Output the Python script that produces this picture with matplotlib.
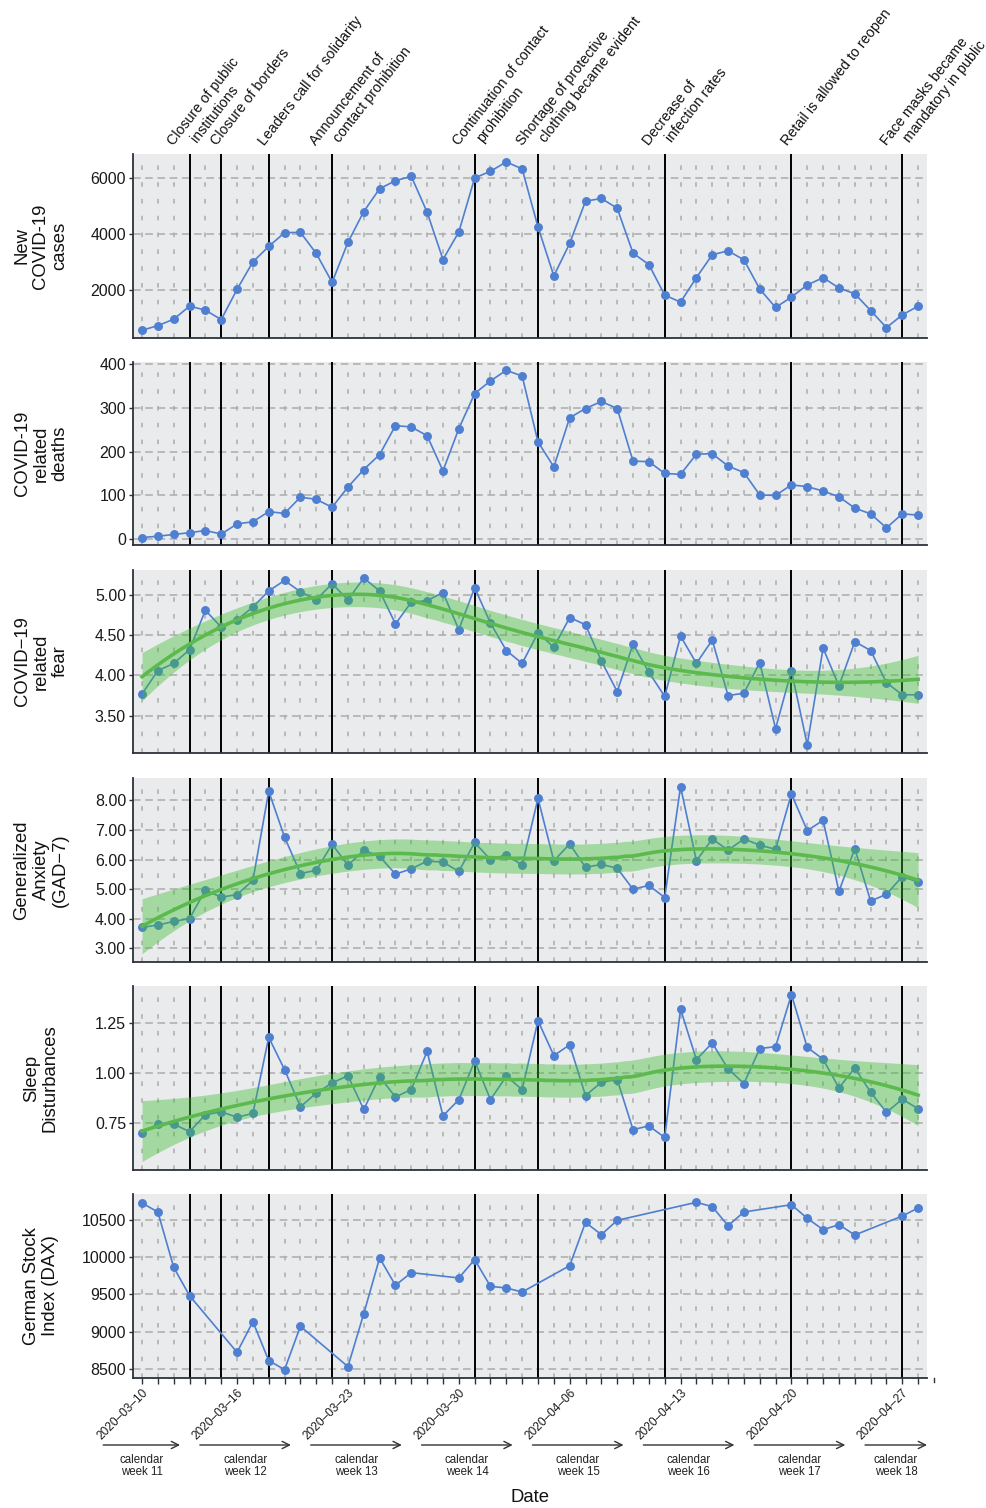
import numpy as np
import pandas as pd
import matplotlib
matplotlib.use('Agg')
import matplotlib.pyplot as plt
import matplotlib.dates as mdates

plt.rcParams['font.family'] = ['Liberation Sans', 'DejaVu Sans']

# daily series, 2020-03-10 .. 2020-04-28
days = pd.date_range('2020-03-10', '2020-04-28', freq='D')

new_cases = [561, 729, 956, 1424, 1280, 944, 2023, 3005, 3556, 4047,
             4059, 3305, 2274, 3700, 4802, 5617, 5904, 6060, 4778, 3089,
             4071, 6000, 6240, 6575, 6323, 4251, 2502, 3664, 5173, 5269,
             4922, 3316, 2909, 1819, 1567, 2442, 3257, 3400, 3077, 2035,
             1376, 1747, 2178, 2442, 2071, 1867, 1268, 657, 1112, 1424]

deaths = [4, 7, 11, 15, 20, 12, 35, 40, 63, 59,
          96, 91, 73, 119, 159, 193, 259, 256, 236, 156,
          252, 332, 361, 385, 372, 222, 165, 277, 298, 314,
          298, 178, 177, 150, 148, 194, 195, 167, 152, 101,
          100, 124, 120, 110, 97, 71, 58, 26, 58, 55]

fear = [3.77, 4.06, 4.15, 4.32, 4.81, 4.60, 4.69, 4.85, 5.05, 5.18,
        5.04, 4.94, 5.14, 4.94, 5.21, 5.05, 4.64, 4.91, 4.93, 5.03,
        4.57, 5.09, 4.65, 4.31, 4.15, 4.53, 4.35, 4.72, 4.63, 4.18,
        3.80, 4.39, 4.04, 3.74, 4.49, 4.15, 4.44, 3.75, 3.78, 4.16,
        3.34, 4.06, 3.14, 4.34, 3.87, 4.42, 4.31, 3.91, 3.76, 3.76]

gad7 = [3.71, 3.79, 3.91, 4.01, 4.97, 4.73, 4.82, 5.30, 8.31, 6.76,
        5.53, 5.64, 6.52, 5.81, 6.32, 6.11, 5.51, 5.69, 5.95, 5.92,
        5.60, 6.58, 6.00, 6.17, 5.81, 8.07, 5.96, 6.53, 5.74, 5.84,
        5.71, 5.00, 5.13, 4.72, 8.47, 5.96, 6.70, 6.32, 6.70, 6.49,
        6.35, 8.22, 6.98, 7.33, 4.93, 6.37, 4.60, 4.83, 5.43, 5.24]

sleep = [0.704, 0.748, 0.747, 0.709, 0.793, 0.808, 0.781, 0.800, 1.179, 1.018,
         0.833, 0.901, 0.952, 0.988, 0.820, 0.983, 0.882, 0.919, 1.109, 0.788,
         0.868, 1.061, 0.869, 0.985, 0.919, 1.262, 1.088, 1.142, 0.889, 0.955,
         0.969, 0.719, 0.738, 0.680, 1.320, 1.068, 1.151, 1.022, 0.949, 1.123,
         1.133, 1.392, 1.129, 1.070, 0.927, 1.026, 0.906, 0.805, 0.871, 0.823]

# DAX only on trading days
dax_dates = pd.to_datetime([
    '2020-03-10', '2020-03-11', '2020-03-12', '2020-03-13',
    '2020-03-16', '2020-03-17', '2020-03-18', '2020-03-19', '2020-03-20',
    '2020-03-23', '2020-03-24', '2020-03-25', '2020-03-26', '2020-03-27',
    '2020-03-30', '2020-03-31', '2020-04-01', '2020-04-02', '2020-04-03',
    '2020-04-06', '2020-04-07', '2020-04-08', '2020-04-09',
    '2020-04-14', '2020-04-15', '2020-04-16', '2020-04-17',
    '2020-04-20', '2020-04-21', '2020-04-22', '2020-04-23', '2020-04-24',
    '2020-04-27', '2020-04-28'])
dax = [10723, 10602, 9863, 9484,
       8727, 9137, 8616, 8496, 9075,
       8536, 9244, 9988, 9623, 9792,
       9721, 9966, 9609, 9587, 9533,
       9885, 10464, 10300, 10491,
       10732, 10674, 10420, 10602,
       10700, 10518, 10366, 10433, 10295,
       10549, 10656]

event_dates = pd.to_datetime(['2020-03-13', '2020-03-15', '2020-03-18', '2020-03-22',
                              '2020-03-31', '2020-04-04', '2020-04-12', '2020-04-20',
                              '2020-04-27'])
event_labels = ['Closure of public\ninstitutions',
                'Closure of borders',
                'Leaders call for solidarity',
                'Announcement of\ncontact prohibition',
                'Continuation of contact\nprohibition',
                'Shortage of protective\nclothing became evident',
                'Decrease of\ninfection rates',
                'Retail is allowed to reopen',
                'Face masks became\nmandatory in public']

tick_dates = pd.to_datetime(['2020-03-10', '2020-03-16', '2020-03-23', '2020-03-30',
                             '2020-04-06', '2020-04-13', '2020-04-20', '2020-04-27'])
week_mondays = pd.to_datetime(['2020-03-09', '2020-03-16', '2020-03-23', '2020-03-30',
                               '2020-04-06', '2020-04-13', '2020-04-20', '2020-04-27'])
week_numbers = [11, 12, 13, 14, 15, 16, 17, 18]

BLUE = '#4f7fd0'
GREEN_LINE = '#5cb94e'
GREEN_FILL = '#3cbe32'
PANEL_BG = '#e9ebec'
GRID = '#acacac'
AXIS = '#2d313b'


def loess(x, y, grid, span=0.75):
    # local quadratic fit with tricube weights (like R's loess / geom_smooth)
    x = np.asarray(x, float)
    y = np.asarray(y, float)
    n = len(x)
    q = int(np.floor(n * span))

    def row(x0):
        d = np.abs(x - x0)
        h = np.sort(d)[q - 1]
        w = (1 - np.clip(d / h, 0, 1) ** 3) ** 3
        X = np.column_stack([np.ones(n), x - x0, (x - x0) ** 2])
        XtW = X.T * w
        return np.linalg.solve(XtW @ X, XtW)[0]

    L = np.array([row(v) for v in x])
    resid = y - L @ y
    M = np.eye(n) - L
    sigma = np.sqrt(resid @ resid / np.trace(M.T @ M))
    G = np.array([row(v) for v in grid])
    fit = G @ y
    se = sigma * np.sqrt((G ** 2).sum(axis=1))
    return fit, fit - 2.02 * se, fit + 2.02 * se


W, H = 987, 1508
fig = plt.figure(figsize=(W / 100, H / 100), dpi=100)

panels_px = [(154, 338), (362, 545), (570, 753), (778, 962), (986, 1170), (1194, 1378)]
left_px, right_px = 133, 927

xnum = mdates.date2num(days)
xlim = (xnum[0] - 0.57, xnum[-1] + 0.56)
day_idx = np.arange(len(days), dtype=float)

axes = []
for top, bottom in panels_px:
    ax = fig.add_axes([left_px / W, 1 - bottom / H, (right_px - left_px) / W, (bottom - top) / H])
    ax.set_facecolor(PANEL_BG)
    for s in ['top', 'right']:
        ax.spines[s].set_visible(False)
    for s in ['left', 'bottom']:
        ax.spines[s].set_color(AXIS)
        ax.spines[s].set_linewidth(1.3)
    ax.set_xlim(xlim)
    ax.set_xticks(xnum)
    ax.grid(axis='x', ls=(0, (3, 8)), color=GRID, lw=1.1)
    ax.grid(axis='y', ls=(0, (5, 3)), color=GRID, lw=1.1)
    ax.set_axisbelow(True)
    ax.tick_params(axis='y', labelsize=11.5, length=3, width=1, color=AXIS, labelcolor='#1a1a1a', pad=2)
    ax.tick_params(axis='x', length=0, labelbottom=False)
    for ev in mdates.date2num(event_dates):
        ax.axvline(ev, color='black', lw=1.4, zorder=2)
    axes.append(ax)


def draw_series(ax, x, y):
    ax.plot(x, y, color=BLUE, lw=1.2, marker='o', ms=5.4, zorder=3)


def draw_smooth(ax, y):
    grid = np.linspace(0, len(y) - 1, 120)
    fit, lo, hi = loess(day_idx, y, grid)
    gx = xnum[0] + grid
    ax.fill_between(gx, lo, hi, color=GREEN_FILL, alpha=0.4, lw=0, zorder=4)
    ax.plot(gx, fit, color=GREEN_LINE, lw=2.6, zorder=5)


ax1, ax2, ax3, ax4, ax5, ax6 = axes

draw_series(ax1, xnum, new_cases)
ax1.set_ylim(286, 6857)
ax1.set_yticks([2000, 4000, 6000])

draw_series(ax2, xnum, deaths)
ax2.set_ylim(-13, 404)
ax2.set_yticks([0, 100, 200, 300, 400])

draw_series(ax3, xnum, fear)
draw_smooth(ax3, fear)
ax3.set_ylim(3.037, 5.31)
ax3.set_yticks([3.5, 4.0, 4.5, 5.0])

draw_series(ax4, xnum, gad7)
draw_smooth(ax4, gad7)
ax4.set_ylim(2.54, 8.76)
ax4.set_yticks([3, 4, 5, 6, 7, 8])

draw_series(ax5, xnum, sleep)
draw_smooth(ax5, sleep)
ax5.set_ylim(0.518, 1.435)
ax5.set_yticks([0.75, 1.0, 1.25])

draw_series(ax6, mdates.date2num(dax_dates), dax)
ax6.set_ylim(8384, 10843)
ax6.set_yticks([8500, 9000, 9500, 10000, 10500])

for ax in [ax3, ax4, ax5]:
    ax.yaxis.set_major_formatter(matplotlib.ticker.FormatStrFormatter('%.2f'))

ylabels = ['New\nCOVID-19\ncases', 'COVID-19\nrelated\ndeaths', 'COVID\u221219\nrelated\nfear',
           'Generalized\nAnxiety\n(GAD\u22127)', 'Sleep\nDisturbances', 'German Stock\nIndex (DAX)']
for ax, lab in zip(axes, ylabels):
    ax.text((41 - left_px) / (right_px - left_px), 0.5, lab, transform=ax.transAxes,
            rotation=90, ha='center', va='center', multialignment='center',
            fontsize=13.3, linespacing=1.15, color='#111111')

# bottom x axis: one tick per day, labels weekly
tick_set = set(tick_dates)
ax6.set_xticks(xnum)
ax6.set_xticklabels([d.strftime('%Y\u2013%m\u2013%d') if d in tick_set else '' for d in days])
ax6.tick_params(axis='x', length=4, width=1, color=AXIS, labelbottom=True, labelsize=8.6,
                labelcolor='#1a1a1a', pad=2)
for lab in ax6.get_xticklabels():
    lab.set_rotation(45)
    lab.set_ha('right')
    lab.set_rotation_mode('anchor')
ax6.plot([xnum[-1] + 1, xnum[-1] + 1], [0, -0.022], transform=ax6.get_xaxis_transform(),
         color=AXIS, lw=1, clip_on=False)

# event labels above the first panel
for ev, lab in zip(mdates.date2num(event_dates), event_labels):
    lines = lab.split('\n')
    n = len(lines)
    for i, line in enumerate(lines):
        dx = -4 + (i - (n - 1) / 2) * 23.5
        dy = 8 + 3 * i
        ax1.annotate(line, xy=(ev, 1), xycoords=('data', 'axes fraction'),
                     xytext=(dx, dy), textcoords='offset pixels',
                     rotation=52, rotation_mode='anchor', ha='left', va='baseline',
                     fontsize=10.3, color='#111111', annotation_clip=False)

# calendar week arrows
arrow_y = 1 - 1445 / H
text_y = 1 - 1466 / H
x_lo = xnum[0] - 2.45
for monday, wk in zip(mdates.date2num(week_mondays), week_numbers):
    start = max(monday - 2.35, x_lo)
    end = min(monday + 3.4, xlim[1])
    ax6.annotate('', xy=(end, arrow_y), xycoords=('data', 'figure fraction'),
                 xytext=(start, arrow_y), textcoords=('data', 'figure fraction'),
                 arrowprops=dict(arrowstyle='->', color='#333333', lw=1.0,
                                 shrinkA=0, shrinkB=0, mutation_scale=13),
                 annotation_clip=False)
    ax6.annotate(f'calendar\nweek {wk}', xy=((start + end) / 2, text_y),
                 xycoords=('data', 'figure fraction'), ha='center', va='center',
                 fontsize=8.3, color='#222222', linespacing=1.1, annotation_clip=False)

fig.text(530 / W, 1 - 1497 / H, 'Date', ha='center', va='center', fontsize=13.3, color='#111111')

fig.savefig('out.png', dpi=100)
